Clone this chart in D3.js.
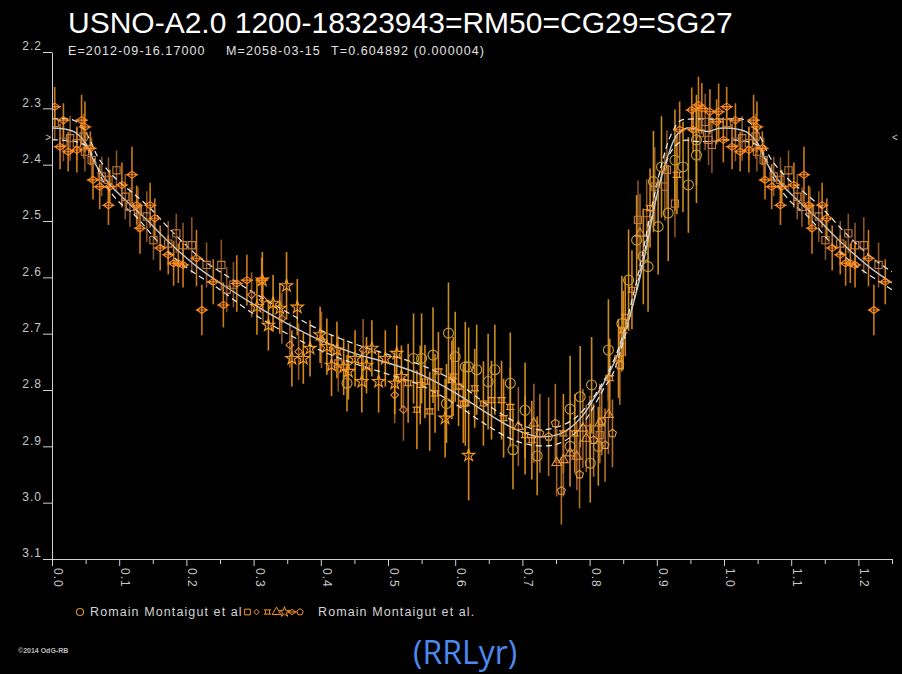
<!DOCTYPE html>
<html>
<head>
<meta charset="utf-8">
<script src="https://cdn.jsdelivr.net/npm/d3@7"></script>
<style>
  body { margin: 0; background: #000; }
  svg { display: block; }
  text { font-family: "Liberation Sans", Arial, sans-serif; }
</style>
</head>
<body>
<svg id="chart"></svg>
<script>
// Axis ticks
const yTicks = [2.2, 2.3, 2.4, 2.5, 2.6, 2.7, 2.8, 2.9, 3.0, 3.1];
const xMajorTicks = [0, 0.1, 0.2, 0.3, 0.4, 0.5, 0.6, 0.7, 0.8, 0.9, 1.0, 1.1, 1.2];
const xMinorTicks = [0.05, 0.15, 0.25, 0.35, 0.45, 0.55, 0.65, 0.75, 0.85, 0.95, 1.05, 1.15, 1.25];
const maxMark = 2.35;

// Observations: [phase, magnitude, error]
const crossDiamondPts = [
  [0.004, 2.297, 0.035], [0.017, 2.321, 0.03], [0.012, 2.368, 0.04], [0.024, 2.377, 0.035],
  [0.037, 2.374, 0.04], [0.044, 2.321, 0.045], [0.049, 2.333, 0.045], [0.057, 2.371, 0.03],
  [0.061, 2.427, 0.035], [0.071, 2.439, 0.04], [0.084, 2.472, 0.035], [0.086, 2.439, 0.03],
  [0.104, 2.436, 0.04], [0.119, 2.418, 0.05], [0.126, 2.472, 0.035], [0.131, 2.513, 0.045],
  [0.146, 2.472, 0.04], [0.153, 2.495, 0.035], [0.161, 2.548, 0.04], [0.173, 2.560, 0.035],
  [0.181, 2.575, 0.04], [0.188, 2.575, 0.035], [0.195, 2.578, 0.04], [0.215, 2.566, 0.05],
  [0.223, 2.658, 0.045], [0.240, 2.608, 0.04], [0.255, 2.649, 0.04], [0.275, 2.611, 0.05],
  [0.290, 2.605, 0.045], [0.312, 2.605, 0.04], [0.934, 2.338, 0.05], [0.952, 2.303, 0.04],
  [0.954, 2.338, 0.04], [0.962, 2.294, 0.05], [0.967, 2.300, 0.045], [0.979, 2.306, 0.04],
  [0.989, 2.324, 0.04], [0.992, 2.306, 0.05], [0.999, 2.356, 0.04]
];
const squarePts = [
  [0.004, 2.326, 0.03], [0.017, 2.359, 0.035], [0.027, 2.353, 0.04], [0.037, 2.362, 0.03],
  [0.047, 2.350, 0.04], [0.049, 2.377, 0.035], [0.059, 2.392, 0.04], [0.074, 2.421, 0.035],
  [0.084, 2.427, 0.04], [0.096, 2.410, 0.035], [0.109, 2.457, 0.04], [0.116, 2.475, 0.035],
  [0.128, 2.480, 0.04], [0.141, 2.492, 0.045], [0.151, 2.534, 0.035], [0.173, 2.540, 0.04],
  [0.185, 2.522, 0.035], [0.195, 2.543, 0.04], [0.208, 2.543, 0.05], [0.230, 2.578, 0.04],
  [0.252, 2.578, 0.045], [0.260, 2.622, 0.04], [0.270, 2.613, 0.04], [0.426, 2.753, 0.05],
  [0.800, 2.870, 0.06], [0.815, 2.880, 0.05], [0.872, 2.498, 0.07], [0.885, 2.486, 0.06],
  [0.897, 2.439, 0.07], [0.912, 2.439, 0.06], [0.915, 2.409, 0.07], [0.927, 2.469, 0.06],
  [0.964, 2.344, 0.05], [0.972, 2.324, 0.05], [0.977, 2.356, 0.045], [0.982, 2.365, 0.05]
];
const circlePts = [
  [0.439, 2.788, 0.05], [0.538, 2.744, 0.08], [0.550, 2.744, 0.08], [0.567, 2.738, 0.085],
  [0.587, 2.824, 0.07], [0.590, 2.699, 0.09], [0.600, 2.741, 0.08], [0.615, 2.759, 0.08],
  [0.620, 2.759, 0.07], [0.632, 2.764, 0.08], [0.649, 2.785, 0.085], [0.659, 2.764, 0.08],
  [0.682, 2.788, 0.09], [0.686, 2.906, 0.07], [0.704, 2.836, 0.085], [0.722, 2.917, 0.07],
  [0.771, 2.834, 0.095], [0.771, 2.900, 0.07], [0.786, 2.812, 0.09], [0.801, 2.930, 0.07],
  [0.803, 2.791, 0.085], [0.813, 2.900, 0.07], [0.828, 2.729, 0.09], [0.848, 2.682, 0.085],
  [0.858, 2.605, 0.09], [0.870, 2.534, 0.08], [0.880, 2.563, 0.085], [0.887, 2.581, 0.08],
  [0.895, 2.430, 0.09], [0.902, 2.510, 0.085], [0.907, 2.404, 0.09], [0.917, 2.486, 0.085],
  [0.927, 2.392, 0.09], [0.939, 2.404, 0.08], [0.947, 2.436, 0.085], [0.959, 2.356, 0.08],
  [0.959, 2.383, 0.085]
];
const diamondPts = [
  [0.297, 2.631, 0.04], [0.314, 2.640, 0.04], [0.342, 2.673, 0.045], [0.354, 2.720, 0.04],
  [0.367, 2.732, 0.05], [0.401, 2.711, 0.05], [0.463, 2.729, 0.055], [0.510, 2.809, 0.05],
  [0.523, 2.835, 0.055]
];
const starPts = [
  [0.305, 2.652, 0.05], [0.313, 2.605, 0.05], [0.322, 2.685, 0.045], [0.329, 2.646, 0.05],
  [0.339, 2.655, 0.045], [0.349, 2.615, 0.06], [0.357, 2.744, 0.05], [0.365, 2.653, 0.05],
  [0.374, 2.744, 0.045], [0.384, 2.726, 0.05], [0.399, 2.702, 0.05], [0.409, 2.723, 0.05],
  [0.416, 2.756, 0.055], [0.424, 2.729, 0.05], [0.434, 2.759, 0.05], [0.441, 2.767, 0.05],
  [0.451, 2.744, 0.05], [0.461, 2.785, 0.055], [0.468, 2.756, 0.05], [0.476, 2.726, 0.05],
  [0.486, 2.785, 0.055], [0.496, 2.744, 0.05], [0.510, 2.788, 0.055], [0.513, 2.735, 0.05],
  [0.520, 2.776, 0.055], [0.585, 2.850, 0.07], [0.620, 2.916, 0.08]
];
const trianglePts = [
  [0.694, 2.865, 0.07], [0.717, 2.859, 0.07], [0.751, 2.929, 0.06], [0.761, 2.924, 0.065],
  [0.771, 2.912, 0.06], [0.781, 2.918, 0.06], [0.790, 2.868, 0.07], [0.795, 2.886, 0.06],
  [0.815, 2.859, 0.07], [0.828, 2.844, 0.07], [0.875, 2.522, 0.07]
];
const pentagonPts = [
  [0.726, 2.877, 0.07], [0.739, 2.883, 0.07], [0.749, 2.859, 0.07], [0.758, 2.979, 0.06],
  [0.785, 2.950, 0.06], [0.806, 2.889, 0.065], [0.818, 2.856, 0.06], [0.823, 2.898, 0.065],
  [0.834, 2.877, 0.06], [0.845, 2.756, 0.07]
];
const crossSquarePts = [
  [0.530, 2.788, 0.07], [0.543, 2.835, 0.07], [0.548, 2.791, 0.07], [0.555, 2.785, 0.065],
  [0.562, 2.838, 0.07], [0.570, 2.806, 0.07], [0.575, 2.767, 0.07], [0.595, 2.782, 0.07],
  [0.597, 2.776, 0.07], [0.605, 2.794, 0.07], [0.612, 2.824, 0.07], [0.615, 2.824, 0.075],
  [0.629, 2.797, 0.07], [0.642, 2.824, 0.075], [0.654, 2.818, 0.07], [0.669, 2.818, 0.07],
  [0.672, 2.850, 0.07], [0.682, 2.830, 0.07], [0.704, 2.880, 0.07], [0.714, 2.889, 0.07],
  [0.761, 2.877, 0.07], [0.778, 2.877, 0.07], [0.830, 2.779, 0.07], [0.843, 2.744, 0.07],
  [0.850, 2.694, 0.07], [0.853, 2.670, 0.07], [0.863, 2.622, 0.07], [0.890, 2.477, 0.07],
  [0.930, 2.418, 0.07]
];

// Fitted light curve and its envelope: [phase, magnitude]
const solidFit = [
  [0.000, 2.335], [0.020, 2.337], [0.035, 2.343], [0.050, 2.362], [0.065, 2.400], [0.085, 2.434],
  [0.113, 2.467], [0.140, 2.497], [0.165, 2.527], [0.190, 2.555], [0.220, 2.585], [0.250, 2.610],
  [0.300, 2.648], [0.350, 2.682], [0.400, 2.712], [0.450, 2.735], [0.500, 2.752], [0.550, 2.773],
  [0.600, 2.805], [0.650, 2.843], [0.690, 2.870], [0.720, 2.882], [0.750, 2.880], [0.770, 2.868],
  [0.790, 2.845], [0.805, 2.818], [0.820, 2.790], [0.840, 2.742], [0.855, 2.687], [0.870, 2.625],
  [0.885, 2.545], [0.900, 2.455], [0.915, 2.390], [0.930, 2.347], [0.945, 2.335], [0.962, 2.338],
  [0.978, 2.341], [0.990, 2.336], [1.000, 2.335]
];
const upperFit = [
  [0.000, 2.319], [0.030, 2.320], [0.045, 2.333], [0.058, 2.360], [0.070, 2.390], [0.095, 2.425],
  [0.120, 2.450], [0.145, 2.476], [0.170, 2.508], [0.195, 2.538], [0.222, 2.567], [0.250, 2.590],
  [0.300, 2.627], [0.350, 2.662], [0.400, 2.694], [0.450, 2.718], [0.500, 2.737], [0.550, 2.756],
  [0.600, 2.785], [0.650, 2.828], [0.690, 2.857], [0.720, 2.870], [0.745, 2.868], [0.775, 2.853],
  [0.795, 2.830], [0.810, 2.805], [0.825, 2.775], [0.845, 2.720], [0.860, 2.655], [0.875, 2.580],
  [0.890, 2.490], [0.905, 2.410], [0.920, 2.350], [0.935, 2.322], [0.950, 2.319], [0.980, 2.319],
  [1.000, 2.319]
];
const lowerFit = [
  [0.000, 2.356], [0.030, 2.358], [0.050, 2.366], [0.062, 2.388], [0.075, 2.427], [0.097, 2.463],
  [0.125, 2.492], [0.160, 2.540], [0.195, 2.578], [0.250, 2.622], [0.300, 2.665], [0.350, 2.700],
  [0.400, 2.730], [0.450, 2.753], [0.500, 2.772], [0.550, 2.792], [0.600, 2.825], [0.640, 2.857],
  [0.680, 2.885], [0.710, 2.897], [0.745, 2.898], [0.770, 2.885], [0.790, 2.860], [0.805, 2.832],
  [0.820, 2.800], [0.835, 2.770], [0.850, 2.715], [0.865, 2.645], [0.880, 2.565], [0.895, 2.480],
  [0.910, 2.410], [0.925, 2.370], [0.940, 2.357], [0.960, 2.359], [0.990, 2.358], [1.000, 2.356]
];

const W = 902, H = 674;
const svg = d3.select("#chart").attr("width", W).attr("height", H);
svg.append("rect").attr("width", W).attr("height", H).attr("fill", "#000");

const x = d3.scaleLinear().domain([0, 1.25]).range([52, 892]);
const y = d3.scaleLinear().domain([2.2, 3.1]).range([52, 559]);

// phases below 0.25 are shown again after 1.0
const fold = (pts) => pts.concat(pts.filter((p) => p[0] > 0 && p[0] <= 0.25).map((p) => [p[0] + 1, ...p.slice(1)]));

// custom marker shapes
const shapes = {
  circle: d3.symbolCircle,
  square: d3.symbolSquare,
  triangle: d3.symbolTriangle,
  star: d3.symbolStar,
  diamond: {
    draw(ctx, s) {
      const r = Math.sqrt(s) / 2;
      ctx.moveTo(0, -r); ctx.lineTo(r, 0); ctx.lineTo(0, r); ctx.lineTo(-r, 0); ctx.closePath();
    }
  },
  crossDiamond: {
    draw(ctx, s) {
      const w = Math.sqrt(s) * 0.6, h = Math.sqrt(s) * 0.42;
      ctx.moveTo(0, -h); ctx.lineTo(w, 0); ctx.lineTo(0, h); ctx.lineTo(-w, 0); ctx.closePath();
      ctx.moveTo(-w * 1.25, 0); ctx.lineTo(w * 1.25, 0);
    }
  },
  pentagon: {
    draw(ctx, s) {
      const r = Math.sqrt(s) * 0.6;
      for (let i = 0; i < 5; i++) {
        const a = -Math.PI / 2 + (i * 2 * Math.PI) / 5;
        if (i === 0) ctx.moveTo(r * Math.cos(a), r * Math.sin(a));
        else ctx.lineTo(r * Math.cos(a), r * Math.sin(a));
      }
      ctx.closePath();
    }
  },
  crossSquare: {
    draw(ctx, s) {
      const r = Math.sqrt(s) / 2, t = r * 0.7;
      ctx.moveTo(-r, -r); ctx.lineTo(r, -r); ctx.lineTo(r, r); ctx.lineTo(-r, r); ctx.closePath();
      ctx.moveTo(-r - t, -r); ctx.lineTo(-r, -r); ctx.moveTo(r, -r); ctx.lineTo(r + t, -r);
      ctx.moveTo(-r - t, r); ctx.lineTo(-r, r); ctx.moveTo(r, r); ctx.lineTo(r + t, r);
    }
  }
};

const series = [
  { pts: squarePts, shape: "square", size: 52, stroke: "#c47c3c", bar: "#9a5c2c" },
  { pts: diamondPts, shape: "diamond", size: 60, stroke: "#e3893a", bar: "#a5622e" },
  { pts: crossSquarePts, shape: "crossSquare", size: 26, stroke: "#f09a30", bar: "#ef951c" },
  { pts: circlePts, shape: "circle", size: 78, stroke: "#c99c34", bar: "#dd9d22" },
  { pts: trianglePts, shape: "triangle", size: 40, stroke: "#e8913a", bar: "#b06a30" },
  { pts: pentagonPts, shape: "pentagon", size: 48, stroke: "#e89c40", bar: "#c47a30" },
  { pts: starPts, shape: "star", size: 48, stroke: "#f79c22", bar: "#f0981a" },
  { pts: crossDiamondPts, shape: "crossDiamond", size: 72, stroke: "#ff8c1e", bar: "#e3871c" }
];

svg.append("clipPath").attr("id", "plot-clip")
  .append("rect").attr("x", 52).attr("y", 30).attr("width", 840).attr("height", 545);

const plot = svg.append("g").attr("clip-path", "url(#plot-clip)");

// error bars
series.forEach((s) => {
  plot.append("g")
    .selectAll("line")
    .data(fold(s.pts))
    .join("line")
    .attr("x1", (d) => x(d[0]))
    .attr("x2", (d) => x(d[0]))
    .attr("y1", (d) => y(d[1] - d[2]))
    .attr("y2", (d) => y(d[1] + d[2]))
    .attr("stroke", s.bar)
    .attr("stroke-width", 1.6)
    .attr("opacity", 0.9);
});

// fitted curves
const line = d3.line()
  .x((d) => x(d[0]))
  .y((d) => y(d[1]))
  .curve(d3.curveCatmullRom.alpha(0.5));

[
  { pts: upperFit, dash: "6,4", color: "#eeeeee", w: 1.2 },
  { pts: lowerFit, dash: "6,4", color: "#eeeeee", w: 1.2 },
  { pts: solidFit, dash: null, color: "#c8c8c8", w: 1.4 }
].forEach((c) => {
  plot.append("path")
    .datum(fold(c.pts))
    .attr("d", line)
    .attr("fill", "none")
    .attr("stroke", c.color)
    .attr("stroke-width", c.w)
    .attr("stroke-dasharray", c.dash);
});

// markers
series.forEach((s) => {
  const sym = d3.symbol().type(shapes[s.shape]).size(s.size);
  plot.append("g")
    .selectAll("path")
    .data(fold(s.pts))
    .join("path")
    .attr("transform", (d) => `translate(${x(d[0])},${y(d[1])})`)
    .attr("d", sym)
    .attr("fill", "none")
    .attr("stroke", s.stroke)
    .attr("stroke-width", 1.1);
});

// y axis
const yAxis = svg.append("g")
  .attr("transform", "translate(52,0)")
  .call(d3.axisLeft(y).tickValues(yTicks).tickSize(9).tickSizeOuter(0).tickFormat(d3.format(".1f")));
yAxis.select(".domain").attr("stroke", "#d0d0d0");
yAxis.selectAll(".tick line").attr("stroke", "#d0d0d0");
yAxis.selectAll(".tick text")
  .attr("fill", "#c8c8c8")
  .attr("font-size", 12)
  .attr("letter-spacing", 1)
  .attr("font-family", "Liberation Sans, Arial, sans-serif")
  .attr("x", -10)
  .attr("dy", "-0.18em");

// x axis: minor then major ticks
const xMinor = svg.append("g")
  .attr("transform", "translate(0,559)")
  .call(d3.axisBottom(x).tickValues(xMinorTicks).tickSize(5).tickSizeOuter(0).tickFormat(""));
xMinor.select(".domain").attr("stroke", "#d0d0d0");
xMinor.selectAll(".tick line").attr("stroke", "#d0d0d0");

const xAxis = svg.append("g")
  .attr("transform", "translate(0,559)")
  .call(d3.axisBottom(x).tickValues(xMajorTicks).tickSize(7).tickSizeOuter(0).tickFormat(d3.format(".1f")));
xAxis.select(".domain").remove();
xAxis.selectAll(".tick line").attr("stroke", "#d0d0d0");
xAxis.selectAll(".tick text")
  .attr("fill", "#c8c8c8")
  .attr("font-size", 12)
  .attr("letter-spacing", 1)
  .attr("font-family", "Liberation Sans, Arial, sans-serif")
  .attr("text-anchor", "start")
  .attr("transform", "rotate(90)")
  .attr("x", 9)
  .attr("y", -1.5)
  .attr("dy", 0);

// brightness markers at the plot edges
svg.append("text").attr("x", 51).attr("y", y(maxMark) + 4).attr("text-anchor", "end")
  .attr("fill", "#c8c8c8").attr("font-size", 10).text(">");
svg.append("text").attr("x", 892).attr("y", y(maxMark) + 4)
  .attr("fill", "#c8c8c8").attr("font-size", 10).text("<");

// titles
svg.append("text").attr("x", 68).attr("y", 33).attr("fill", "#fff").attr("font-size", 30)
  .text("USNO-A2.0 1200-18323943=RM50=CG29=SG27");
const sub = [
  { t: "E=2012-09-16.17000", x: 68 },
  { t: "M=2058-03-15", x: 226 },
  { t: "T=0.604892 (0.000004)", x: 331 }
];
svg.selectAll(".sub").data(sub).join("text")
  .attr("class", "sub")
  .attr("x", (d) => d.x).attr("y", 55)
  .attr("fill", "#e0e0e0").attr("font-size", 12.5).attr("letter-spacing", 1.1)
  .text((d) => d.t);

// legend
const legendY = 612;
const legendText = "Romain Montaigut et al";
svg.append("path")
  .attr("transform", `translate(80,${legendY})`)
  .attr("d", d3.symbol().type(shapes.circle).size(40)())
  .attr("fill", "none").attr("stroke", "#d19a2a").attr("stroke-width", 1.1);
svg.append("text").attr("x", 90).attr("y", legendY + 4).attr("fill", "#d4d4d4")
  .attr("font-size", 12.5).attr("letter-spacing", 1.1).text(legendText);
const legendShapes = ["square", "diamond", "crossSquare", "triangle", "star", "crossDiamond", "pentagon"];
const legendX = [247.5, 256.5, 267.5, 276.5, 284.5, 292, 300];
svg.selectAll(".lsym").data(legendShapes).join("path")
  .attr("class", "lsym")
  .attr("transform", (d, i) => `translate(${legendX[i]},${legendY})`)
  .attr("d", (d) => d3.symbol().type(shapes[d]).size(d === "crossSquare" ? 18 : d === "crossDiamond" ? 40 : 32)())
  .attr("fill", "none").attr("stroke", "#f0962a").attr("stroke-width", 1);
svg.append("text").attr("x", 318).attr("y", legendY + 4).attr("fill", "#d4d4d4")
  .attr("font-size", 12.5).attr("letter-spacing", 1.1).text(legendText + ".");

// footer
svg.append("text").attr("x", 18).attr("y", 653).attr("fill", "#bdbdbd")
  .attr("font-size", 7).attr("font-weight", "bold").text("©2014 OdG-RB");
svg.append("text").attr("x", 413).attr("y", 664).attr("fill", "#4a8af0")
  .attr("font-size", 32).style("font-family", "'Open Sans', 'Noto Sans', sans-serif")
  .text("(RRLyr)");
</script>
</body>
</html>
